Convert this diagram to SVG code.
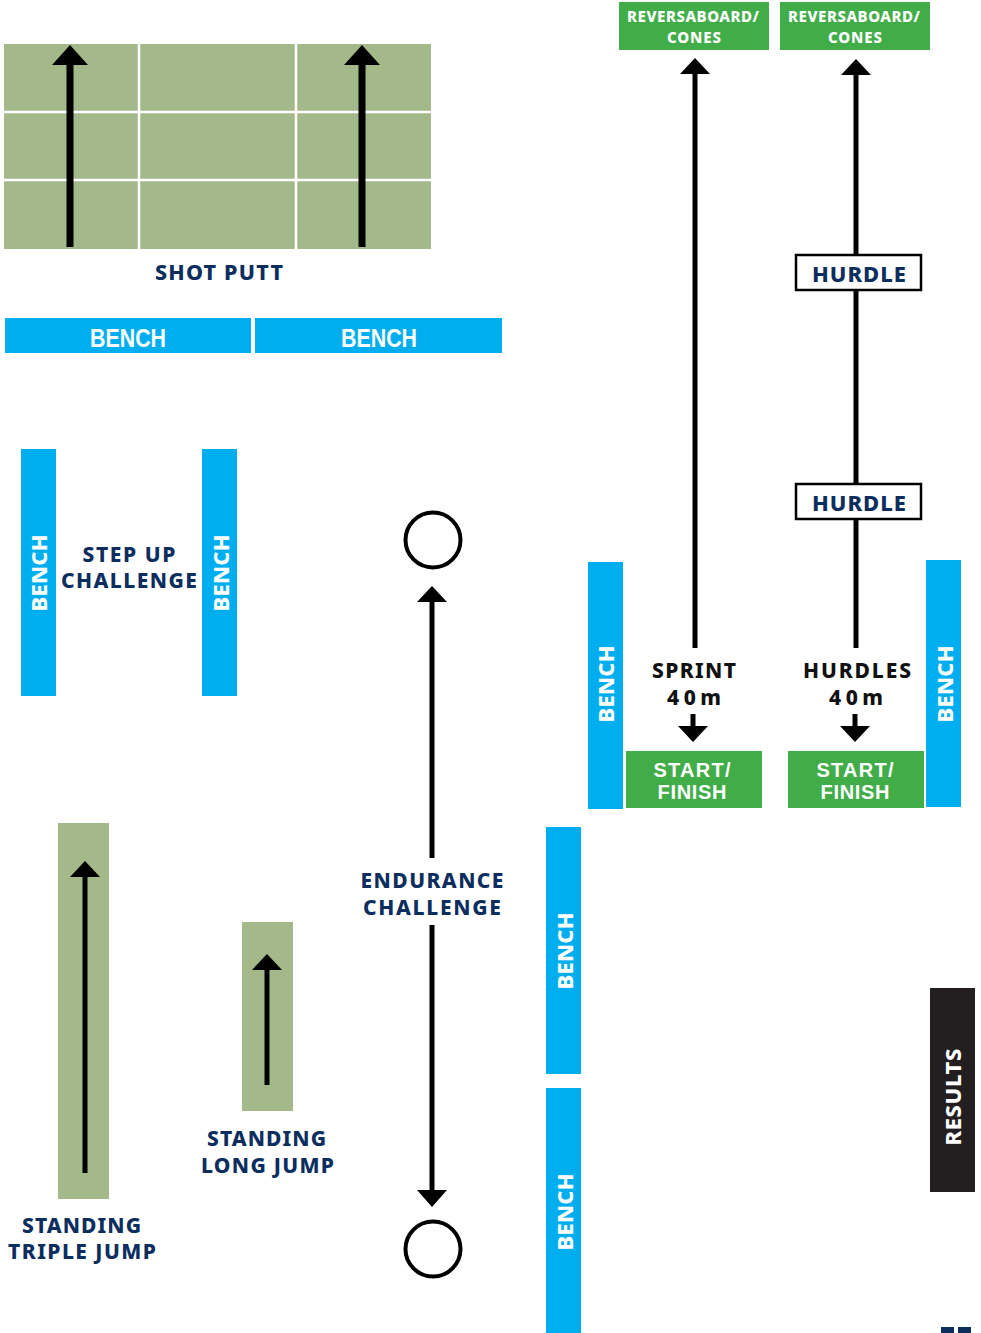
<svg xmlns="http://www.w3.org/2000/svg" width="981" height="1333" viewBox="0 0 981 1333">
<style>
.field{fill:#a3b98a}
.grid{stroke:#ffffff;stroke-width:2.5}
.bench{fill:#00aeef}
.green{fill:#41ad49}
.lbl{font-family:"Noto Sans","Liberation Sans",sans-serif;font-weight:800;fill:#0c2e5e;text-anchor:middle}
.blk{font-family:"Noto Sans","Liberation Sans",sans-serif;font-weight:800;fill:#111111;text-anchor:middle}
.wt{font-family:"Noto Sans","Liberation Sans",sans-serif;font-weight:800;fill:#ffffff;text-anchor:middle}
.sf{font-family:"Liberation Sans",sans-serif;font-weight:700;font-size:20px;fill:#ffffff;text-anchor:middle}
.bh{font-family:"Liberation Sans",sans-serif;font-weight:700;font-size:26px;fill:#ffffff;text-anchor:middle}
.shaft{stroke:#000000;fill:none}
.head{fill:#000000}
.ring{fill:none;stroke:#000000;stroke-width:4}
.hbox{fill:#ffffff;stroke:#000000;stroke-width:2.5}
</style>

<g id="shot-putt">
  <rect class="field" x="4" y="44" width="427" height="205"/>
  <line class="grid" x1="139" y1="44" x2="139" y2="249"/>
  <line class="grid" x1="296" y1="44" x2="296" y2="249"/>
  <line class="grid" x1="4" y1="112" x2="431" y2="112"/>
  <line class="grid" x1="4" y1="180" x2="431" y2="180"/>
  <text class="lbl" x="219" y="280" font-size="21.5" textLength="128">SHOT PUTT</text>
</g>

<g id="bench-top-left">
  <rect class="bench" x="5" y="318" width="246" height="35"/>
  <text class="bh" x="128" y="346.5" textLength="76" lengthAdjust="spacingAndGlyphs">BENCH</text>
</g>
<g id="bench-top-right">
  <rect class="bench" x="255" y="318" width="247" height="35"/>
  <text class="bh" x="379" y="346.5" textLength="76" lengthAdjust="spacingAndGlyphs">BENCH</text>
</g>

<g id="step-up">
  <rect class="bench" x="21" y="449" width="35" height="247"/>
  <text class="wt" font-size="22" textLength="77" transform="translate(47,573) rotate(-90)">BENCH</text>
  <rect class="bench" x="202" y="449" width="35" height="247"/>
  <text class="wt" font-size="22" textLength="77" transform="translate(228.5,573) rotate(-90)">BENCH</text>
  <text class="lbl" x="129" y="562" font-size="21" textLength="93">STEP UP</text>
  <text class="lbl" x="129" y="588" font-size="21" textLength="136">CHALLENGE</text>
</g>

<g id="endurance">
  <circle class="ring" cx="433" cy="540" r="27.5"/>
  <circle class="ring" cx="433" cy="1249" r="27.5"/>
  <text class="lbl" x="432" y="888" font-size="21" textLength="143">ENDURANCE</text>
  <text class="lbl" x="432" y="915" font-size="21" textLength="138">CHALLENGE</text>
</g>

<g id="reversaboard-left">
  <rect class="green" x="619" y="2" width="150" height="48"/>
  <text class="wt" x="693" y="22" font-size="15" textLength="132">REVERSABOARD/</text>
  <text class="wt" x="694" y="43" font-size="15" textLength="54">CONES</text>
</g>
<g id="reversaboard-right">
  <rect class="green" x="780" y="2" width="150" height="48"/>
  <text class="wt" x="854" y="22" font-size="15" textLength="132">REVERSABOARD/</text>
  <text class="wt" x="855" y="43" font-size="15" textLength="54">CONES</text>
</g>

<g id="hurdle-1">
  <rect class="hbox" x="796" y="255" width="125" height="35"/>
  <text class="lbl" x="859" y="282" font-size="22" textLength="94">HURDLE</text>
</g>
<g id="hurdle-2">
  <rect class="hbox" x="796" y="484" width="125" height="35"/>
  <text class="lbl" x="859" y="511" font-size="22" textLength="94">HURDLE</text>
</g>

<g id="sprint">
  <text class="blk" x="694" y="678" font-size="21" textLength="84">SPRINT</text>
  <text class="blk" x="694" y="705" font-size="21" textLength="54">40m</text>
</g>
<g id="hurdles">
  <text class="blk" x="857" y="678" font-size="21" textLength="108">HURDLES</text>
  <text class="blk" x="856" y="705" font-size="21" textLength="54">40m</text>
</g>

<g id="start-finish-left">
  <rect class="green" x="626" y="751" width="136" height="57"/>
  <text class="sf" x="692" y="777" textLength="77">START/</text>
  <text class="sf" x="692" y="799" textLength="69">FINISH</text>
</g>
<g id="start-finish-right">
  <rect class="green" x="788" y="751" width="136" height="57"/>
  <text class="sf" x="855" y="777" textLength="77">START/</text>
  <text class="sf" x="855" y="799" textLength="69">FINISH</text>
</g>

<g id="bench-sprint">
  <rect class="bench" x="588" y="562" width="35" height="247"/>
  <text class="wt" font-size="22" textLength="77" transform="translate(614,684) rotate(-90)">BENCH</text>
</g>
<g id="bench-hurdles">
  <rect class="bench" x="926" y="560" width="35" height="247"/>
  <text class="wt" font-size="22" textLength="77" transform="translate(952.5,684) rotate(-90)">BENCH</text>
</g>

<g id="bench-lower-1">
  <rect class="bench" x="546" y="827" width="35" height="247"/>
  <text class="wt" font-size="22" textLength="77" transform="translate(572.5,951) rotate(-90)">BENCH</text>
</g>
<g id="bench-lower-2">
  <rect class="bench" x="546" y="1088" width="35" height="245"/>
  <text class="wt" font-size="22" textLength="77" transform="translate(572.5,1212) rotate(-90)">BENCH</text>
</g>

<g id="results">
  <rect x="930" y="988" width="45" height="204" fill="#231f20"/>
  <text class="wt" font-size="22" textLength="97" transform="translate(961,1097) rotate(-90)">RESULTS</text>
</g>

<g id="triple-jump">
  <rect class="field" x="58" y="823" width="51" height="376"/>
  <text class="lbl" x="81.5" y="1233" font-size="21" textLength="119">STANDING</text>
  <text class="lbl" x="82" y="1259" font-size="21" textLength="148">TRIPLE JUMP</text>
</g>

<g id="long-jump">
  <rect class="field" x="242" y="922" width="51" height="189"/>
  <text class="lbl" x="266.5" y="1146" font-size="21" textLength="119">STANDING</text>
  <text class="lbl" x="267.5" y="1173" font-size="21" textLength="133">LONG JUMP</text>
</g>

<g id="page-mark">
  <rect x="941" y="1327" width="13" height="6" fill="#0c2e5e"/>
  <rect x="958" y="1327" width="13" height="6" fill="#0c2e5e"/>
</g>

<g id="connectors">
  <line class="shaft" stroke-width="7" x1="70" y1="247" x2="70" y2="62"/>
  <polygon class="head" points="70,45 88,65 52,65"/>
  <line class="shaft" stroke-width="7" x1="362" y1="247" x2="362" y2="62"/>
  <polygon class="head" points="362,45 380,65 344,65"/>
  <line class="shaft" stroke-width="5" x1="432" y1="858" x2="432" y2="600"/>
  <polygon class="head" points="432,586 447,602 417,602"/>
  <line class="shaft" stroke-width="5" x1="432" y1="925" x2="432" y2="1192"/>
  <polygon class="head" points="432,1207 447,1190 417,1190"/>
  <line class="shaft" stroke-width="5" x1="695" y1="648" x2="695" y2="72"/>
  <polygon class="head" points="695,58 710,74 680,74"/>
  <line class="shaft" stroke-width="5" x1="693" y1="714" x2="693" y2="728"/>
  <polygon class="head" points="693,742 708,726 678,726"/>
  <line class="shaft" stroke-width="5" x1="856" y1="255" x2="856" y2="72"/>
  <polygon class="head" points="856,59 871,75 841,75"/>
  <line class="shaft" stroke-width="5" x1="856" y1="290" x2="856" y2="484"/>
  <line class="shaft" stroke-width="5" x1="856" y1="519" x2="856" y2="648"/>
  <line class="shaft" stroke-width="5" x1="855" y1="714" x2="855" y2="728"/>
  <polygon class="head" points="855,742 870,726 840,726"/>
  <line class="shaft" stroke-width="5" x1="85" y1="1173" x2="85" y2="875"/>
  <polygon class="head" points="85,861 100,877 70,877"/>
  <line class="shaft" stroke-width="5" x1="267" y1="1085" x2="267" y2="968"/>
  <polygon class="head" points="267,954 282,970 252,970"/>
</g>
</svg>
